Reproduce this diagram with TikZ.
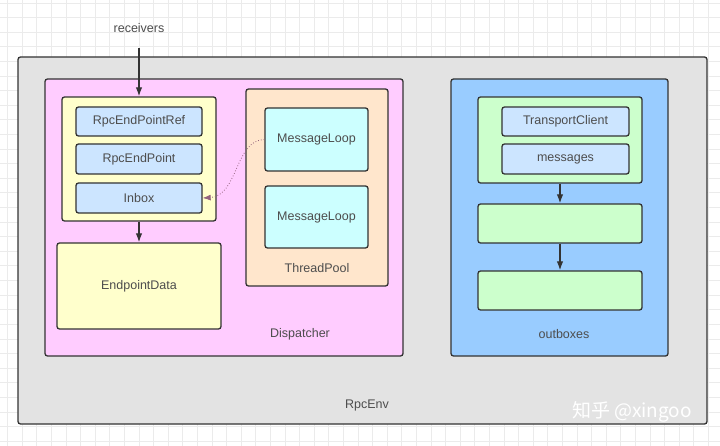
\documentclass[tikz,border=0pt]{standalone}
\usepackage{fontspec}
\setmainfont{Liberation Sans}
\newfontfamily\cjk{Noto Sans CJK SC}
\usepackage{tikz}
\usetikzlibrary{arrows.meta, positioning, calc}

\definecolor{envgray}{HTML}{E3E3E3}
\definecolor{disppink}{HTML}{FFCCFF}
\definecolor{epyellow}{HTML}{FFFFCC}
\definecolor{itemblue}{HTML}{CCE5FF}
\definecolor{poolpeach}{HTML}{FFE6CC}
\definecolor{loopcyan}{HTML}{CCFFFF}
\definecolor{outblue}{HTML}{99CCFF}
\definecolor{boxgreen}{HTML}{CCFFCC}
\definecolor{linedark}{HTML}{333333}
\definecolor{txtgray}{HTML}{4D4D4D}

\begin{document}
\begin{tikzpicture}[x=1pt, y=-1pt, >={Latex[length=9pt,width=6.5pt]},
    box/.style={draw=linedark, line width=1.3pt, rounded corners=2.5pt, inner sep=0pt},
    lbl/.style={text=txtgray, font=\fontsize{12.5}{15}\selectfont, inner sep=0pt},
    link/.style={->, draw=linedark, line width=1.3pt}]
      \useasboundingbox (0,0) rectangle (720,446);
      % Background grid
      \fill[white] (0,0) rectangle (720,446);
      \foreach \gx in {0,...,49} \draw[black!8, line width=0.6pt] (7.5+14.6*\gx,0) -- (7.5+14.6*\gx,446);
      \foreach \gy in {0,...,30} \draw[black!8, line width=0.6pt] (0,3+14.6*\gy) -- (720,3+14.6*\gy);

      % RpcEnv
      \node[box, fill=envgray, minimum width=689pt, minimum height=367pt] (env) at (362.5,240.5) {};
      \node[lbl] (envlbl) at (367,405) {RpcEnv};
      \node[text=white, font=\cjk\fontsize{19}{22}\selectfont, inner sep=0pt] (mark) at (632,412) {知乎 @xingoo};

      % Dispatcher
      \node[box, fill=disppink, minimum width=358pt, minimum height=277pt] (disp) at (224,217.5) {};
      \node[lbl] (displbl) at (300,334) {Dispatcher};

      % Endpoint side
      \node[box, fill=epyellow, minimum width=154pt, minimum height=124pt] (ep) at (139,159) {};
      \node[box, lbl, fill=itemblue, minimum width=126pt, minimum height=29pt] (ref) at (139,121.5) {RpcEndPointRef};
      \node[box, lbl, fill=itemblue, minimum width=126pt, minimum height=30pt] (ept) at (139,159) {RpcEndPoint};
      \node[box, lbl, fill=itemblue, minimum width=126pt, minimum height=30pt] (inbox) at (139,198) {Inbox};
      \node[box, lbl, fill=epyellow, minimum width=164pt, minimum height=86pt] (epdata) at (139,286) {EndpointData};

      % ThreadPool
      \node[box, fill=poolpeach, minimum width=142pt, minimum height=197pt] (pool) at (317,187.5) {};
      \node[lbl] (poollbl) at (317,268) {ThreadPool};
      \node[box, lbl, fill=loopcyan, minimum width=103pt, minimum height=63pt] (loopa) at (316.5,139.5) {MessageLoop};
      \node[box, lbl, fill=loopcyan, minimum width=103pt, minimum height=62pt] (loopb) at (316.5,217) {MessageLoop};

      % outboxes
      \node[box, fill=outblue, minimum width=217pt, minimum height=277pt] (out) at (559.5,217.5) {};
      \node[lbl] (outlbl) at (564,334) {outboxes};
      \node[box, fill=boxgreen, minimum width=164pt, minimum height=86pt] (obox) at (560,140) {};
      \node[box, lbl, fill=itemblue, minimum width=127pt, minimum height=29pt] (client) at (565.5,121.5) {TransportClient};
      \node[box, lbl, fill=itemblue, minimum width=127pt, minimum height=30pt] (msgs) at (565.5,159) {messages};
      \node[box, fill=boxgreen, minimum width=164pt, minimum height=39pt] (oboxb) at (560,223.5) {};
      \node[box, fill=boxgreen, minimum width=164pt, minimum height=39pt] (oboxc) at (560,290.5) {};

      % Arrows
      \node[lbl] (recv) at (139,28) {receivers};
      \coordinate (recvin) at (139,48);
      \draw[link] (recvin) -- (ep.north);
      \draw[link] (ep.south) -- (epdata.north);
      \draw[link] (obox.south) -- (oboxb.north);
      \draw[link] (oboxb.south) -- (oboxc.north);
      \draw[-{Latex[length=8pt,width=6pt]}, dotted, line width=0.8pt, draw=black!45!magenta!60!gray] (loopa.west) .. controls (235,140) and (238,196) .. (inbox.east);
    \end{tikzpicture}
\end{document}
